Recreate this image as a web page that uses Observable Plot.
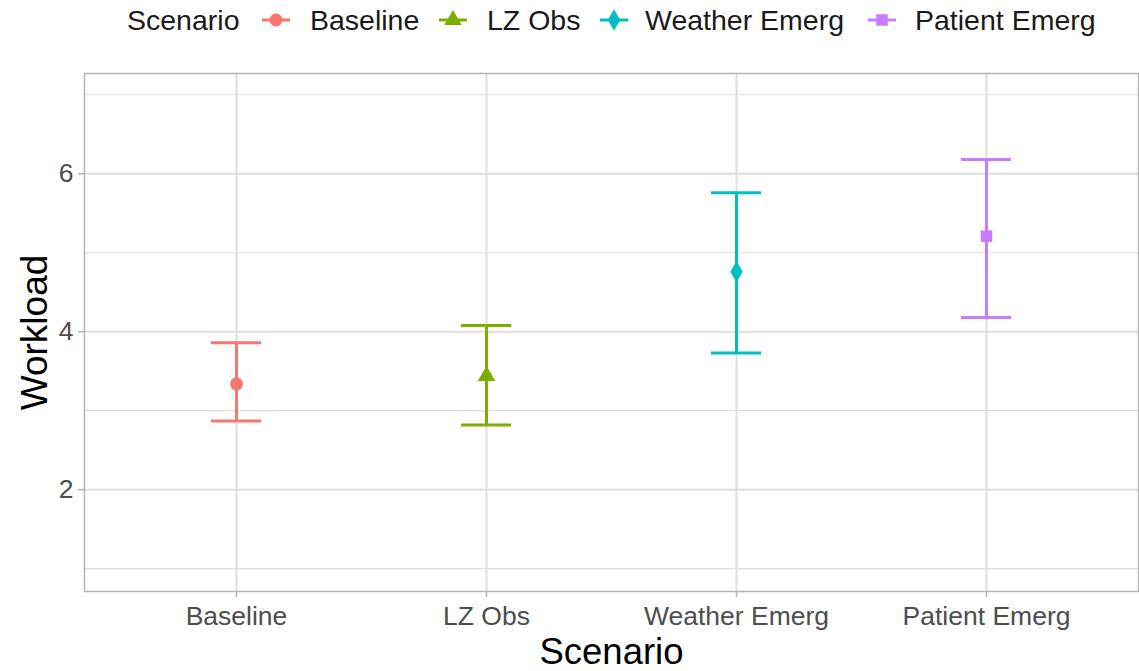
<!DOCTYPE html>
<html>
<head>
<meta charset="utf-8">
<script src="https://cdn.jsdelivr.net/npm/d3@7"></script>
<script src="https://cdn.jsdelivr.net/npm/@observablehq/plot@0.6"></script>
<style>
  body { margin: 0; background: #fff; font-family: "Liberation Sans", Arial, sans-serif; }
  #legend { height: 44px; position: relative; }
  #legend span { position: absolute; top: 5px; font-size: 28.5px; color: #1a1a1a; line-height: 30px; white-space: nowrap; }
  #legend svg { position: absolute; top: 5px; }
</style>
</head>
<body>
<div id="legend"></div>
<div id="chart"></div>
<script>
const scenarios = ["Baseline", "LZ Obs", "Weather Emerg", "Patient Emerg"];
const means = [3.34, 3.44, 4.76, 5.21];
const lowers = [2.87, 2.82, 3.73, 4.18];
const uppers = [3.86, 4.08, 5.76, 6.18];
const colors = ["#F8766D", "#7CAE00", "#00BFC4", "#C77CFF"];
const symbols = ["circle", "triangle", "diamond", "square"];
const majorTicks = [2, 4, 6];
const minorTicks = [1, 3, 5, 7];

const data = scenarios.map((s, i) => ({scenario: s, mean: means[i], lower: lowers[i], upper: uppers[i]}));

// Legend
const legend = document.getElementById("legend");
const keyX = [261, 438, 599, 867];
const textX = [310, 487, 645, 915];
const addSpan = (text, x) => {
  const s = document.createElement("span");
  s.textContent = text; s.style.left = x + "px"; legend.appendChild(s);
};
addSpan("Scenario", 127);
const symMap = {circle: d3.symbolCircle, triangle: d3.symbolTriangle, diamond: d3.symbolDiamond, square: d3.symbolSquare};
scenarios.forEach((s, i) => {
  const svg = d3.create("svg").attr("width", 30).attr("height", 30).style("left", keyX[i] + "px");
  svg.append("line").attr("x1", 1).attr("x2", 29).attr("y1", 15).attr("y2", 15)
    .attr("stroke", colors[i]).attr("stroke-width", 3);
  svg.append("path").attr("d", d3.symbol(symMap[symbols[i]], 42 * Math.PI)())
    .attr("transform", "translate(15,15)").attr("fill", colors[i]);
  legend.appendChild(svg.node());
  addSpan(s, textX[i]);
});

const chart = Plot.plot({
  width: 1139,
  height: 627,
  marginTop: 29,
  marginBottom: 80,
  marginLeft: 84,
  marginRight: 1,
  style: {fontFamily: "Liberation Sans, Arial, sans-serif", background: "#fff"},
  x: {type: "band", domain: scenarios, paddingInner: 0.8, paddingOuter: 0.5},
  y: {domain: [0.71, 7.27]},
  color: {domain: scenarios, range: colors},
  symbol: {domain: scenarios, range: symbols},
  marks: [
    Plot.gridY(minorTicks, {stroke: "#DEDEDE", strokeOpacity: 1, strokeWidth: 1.1}),
    Plot.gridY(majorTicks, {stroke: "#DEDEDE", strokeOpacity: 1, strokeWidth: 2}),
    Plot.gridX(scenarios, {stroke: "#DEDEDE", strokeOpacity: 1, strokeWidth: 2}),
    Plot.frame({stroke: "#B3B3B3", strokeWidth: 1.5}),
    Plot.axisY(majorTicks, {tickSize: 6, tickPadding: 5, fontSize: 26.5, fill: "#4D4D4D", stroke: "#B3B3B3", strokeWidth: 1.5, tickFormat: d => String(d), label: null}),
    Plot.axisX(scenarios, {tickSize: 6, tickPadding: 9, fontSize: 26.5, fill: "#4D4D4D", stroke: "#B3B3B3", strokeWidth: 1.5, label: null}),
    Plot.ruleX(data, {x: "scenario", y1: "lower", y2: "upper", stroke: "scenario", strokeWidth: 3}),
    Plot.tickY(data, {x: "scenario", y: "upper", stroke: "scenario", strokeWidth: 3}),
    Plot.tickY(data, {x: "scenario", y: "lower", stroke: "scenario", strokeWidth: 3}),
    Plot.dot(data, {x: "scenario", y: "mean", fill: "scenario", symbol: "scenario", r: 6.5}),
    Plot.text(["Workload"], {frameAnchor: "left", dx: -49, rotate: -90, textAnchor: "middle", lineAnchor: "middle", fontSize: 37, fill: "#000", text: d => d}),
    Plot.text(["Scenario"], {frameAnchor: "bottom", dy: 61, textAnchor: "middle", lineAnchor: "middle", fontSize: 36.5, fill: "#000", text: d => d})
  ]
});
document.getElementById("chart").appendChild(chart);
</script>
</body>
</html>
